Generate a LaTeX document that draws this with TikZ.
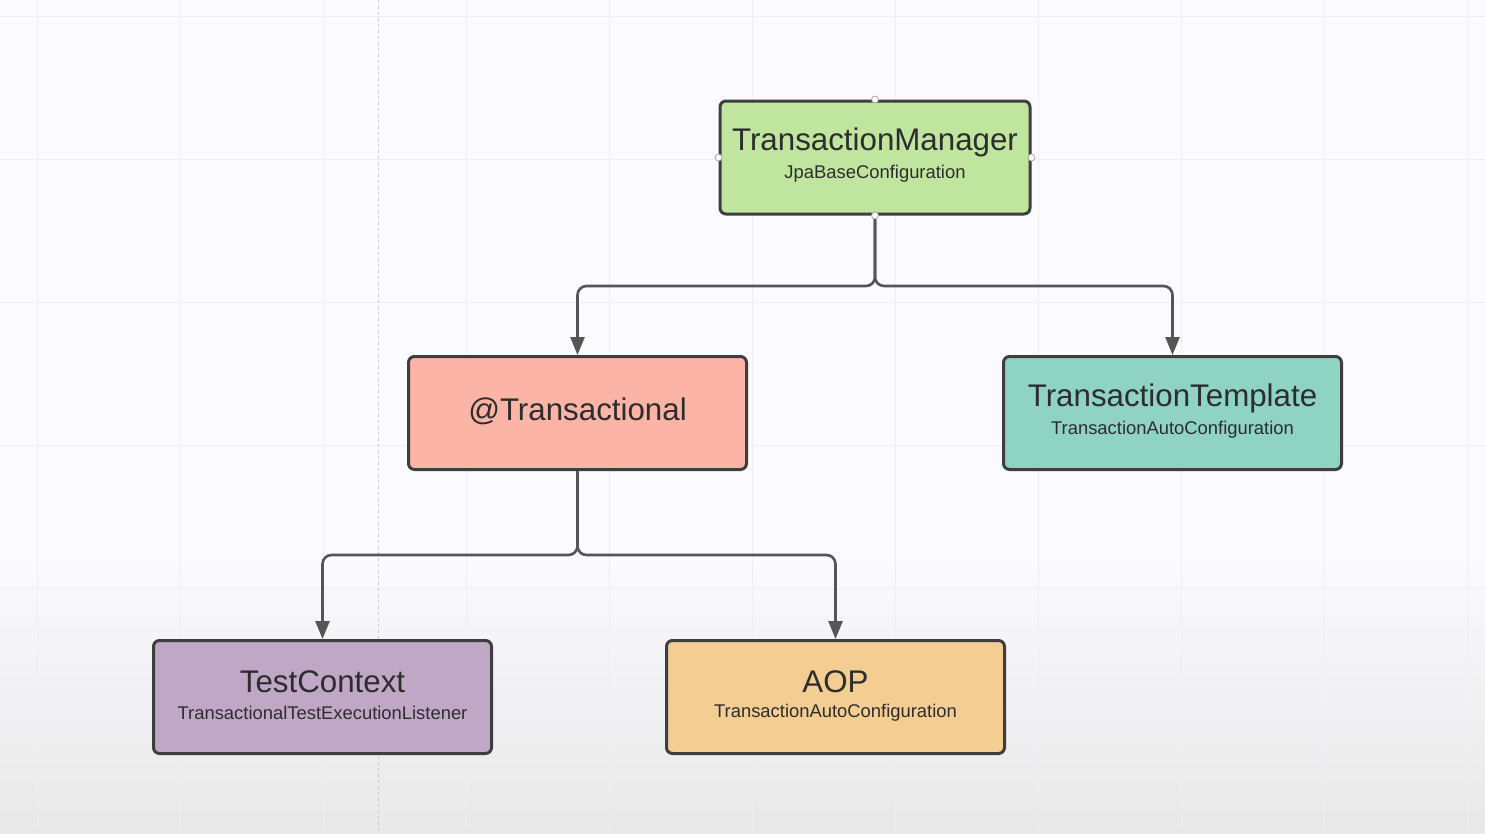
\documentclass[tikz,border=0pt]{standalone}
\usepackage{fontspec}
\setmainfont{Liberation Sans}
\usetikzlibrary{arrows.meta,calc}
\definecolor{cgreen}{RGB}{191,229,158}
\definecolor{csalmon}{RGB}{252,180,166}
\definecolor{cteal}{RGB}{143,211,196}
\definecolor{cpurple}{RGB}{192,167,198}
\definecolor{corange}{RGB}{244,205,146}
\definecolor{cborder}{RGB}{62,62,62}
\definecolor{cline}{RGB}{85,85,85}
\definecolor{ctext}{RGB}{45,45,45}
\definecolor{cgrid}{RGB}{239,239,241}
\tikzset{
  box/.style={draw=cborder, line width=3pt, rounded corners=6pt, minimum width=338pt, minimum height=113pt, inner sep=0pt},
  ttl/.style={text=ctext, font=\fontsize{31.3}{35}\selectfont, inner sep=0pt},
  sub/.style={text=ctext, font=\fontsize{18.4}{21}\selectfont, inner sep=0pt},
  conn/.style={draw=cline, line width=2.6pt, rounded corners=9pt, -{Triangle[length=18pt,width=14pt]}},
  handle/.style={circle, draw=gray!70, fill=white, line width=0.8pt, minimum size=7pt, inner sep=0pt}
}
\begin{document}
\begin{tikzpicture}[x=1pt,y=-1pt]
\useasboundingbox (0,0) rectangle (1485,833);
% background
\fill[white!98!blue] (0,0) rectangle (1485,560);
\shade[top color=white!98!blue, bottom color=black!9] (0,560) rectangle (1485,833);
% grid
\foreach \gx in {37,180,323,466,609,752,895,1038,1181,1324,1467}
  \draw[cgrid, line width=1pt] (\gx,0) -- (\gx,833);
\foreach \gy in {16,159,302,445,588,731}
  \draw[cgrid, line width=1pt] (0,\gy) -- (1485,\gy);
\draw[black!20, dashed, line width=0.8pt] (378,0) -- (378,833);

% boxes
\node[box, fill=cgreen, minimum width=310pt] (tm) at (875,157.5) {};
\node[ttl] (tmt) at (875,142) {TransactionManager};
\node[sub] (tms) at (875,174) {JpaBaseConfiguration};

\node[box, fill=csalmon] (tr) at (577.5,413) {};
\node[ttl] (trt) at (577.5,411) {@Transactional};

\node[box, fill=cteal] (tt) at (1172.5,413) {};
\node[ttl] (ttt) at (1172.5,398) {TransactionTemplate};
\node[sub] (tts) at (1172.5,430) {TransactionAutoConfiguration};

\node[box, fill=cpurple] (tc) at (322.5,697) {};
\node[ttl] (tct) at (322.5,682) {TestContext};
\node[sub] (tcs) at (322.5,713) {TransactionalTestExecutionListener};

\node[box, fill=corange] (aop) at (835.5,697) {};
\node[ttl] (aopt) at (835.5,682) {AOP};
\node[sub] (aops) at (835.5,713) {TransactionAutoConfiguration};

% connectors
\coordinate (j1) at (875,286);
\coordinate (j2) at (577.5,555);
\draw[conn] (tm.south) -- (j1) -- (j1 -| tr.north) -- (tr.north);
\draw[conn] (tm.south) -- (j1) -- (j1 -| tt.north) -- (tt.north);
\draw[conn] (tr.south) -- (j2) -- (j2 -| tc.north) -- (tc.north);
\draw[conn] (tr.south) -- (j2) -- (j2 -| aop.north) -- (aop.north);

% selection handles
\node[handle] (h1) at (tm.north) {};
\node[handle] (h2) at (tm.south) {};
\node[handle] (h3) at (tm.west) {};
\node[handle] (h4) at (tm.east) {};
\end{tikzpicture}
\end{document}
